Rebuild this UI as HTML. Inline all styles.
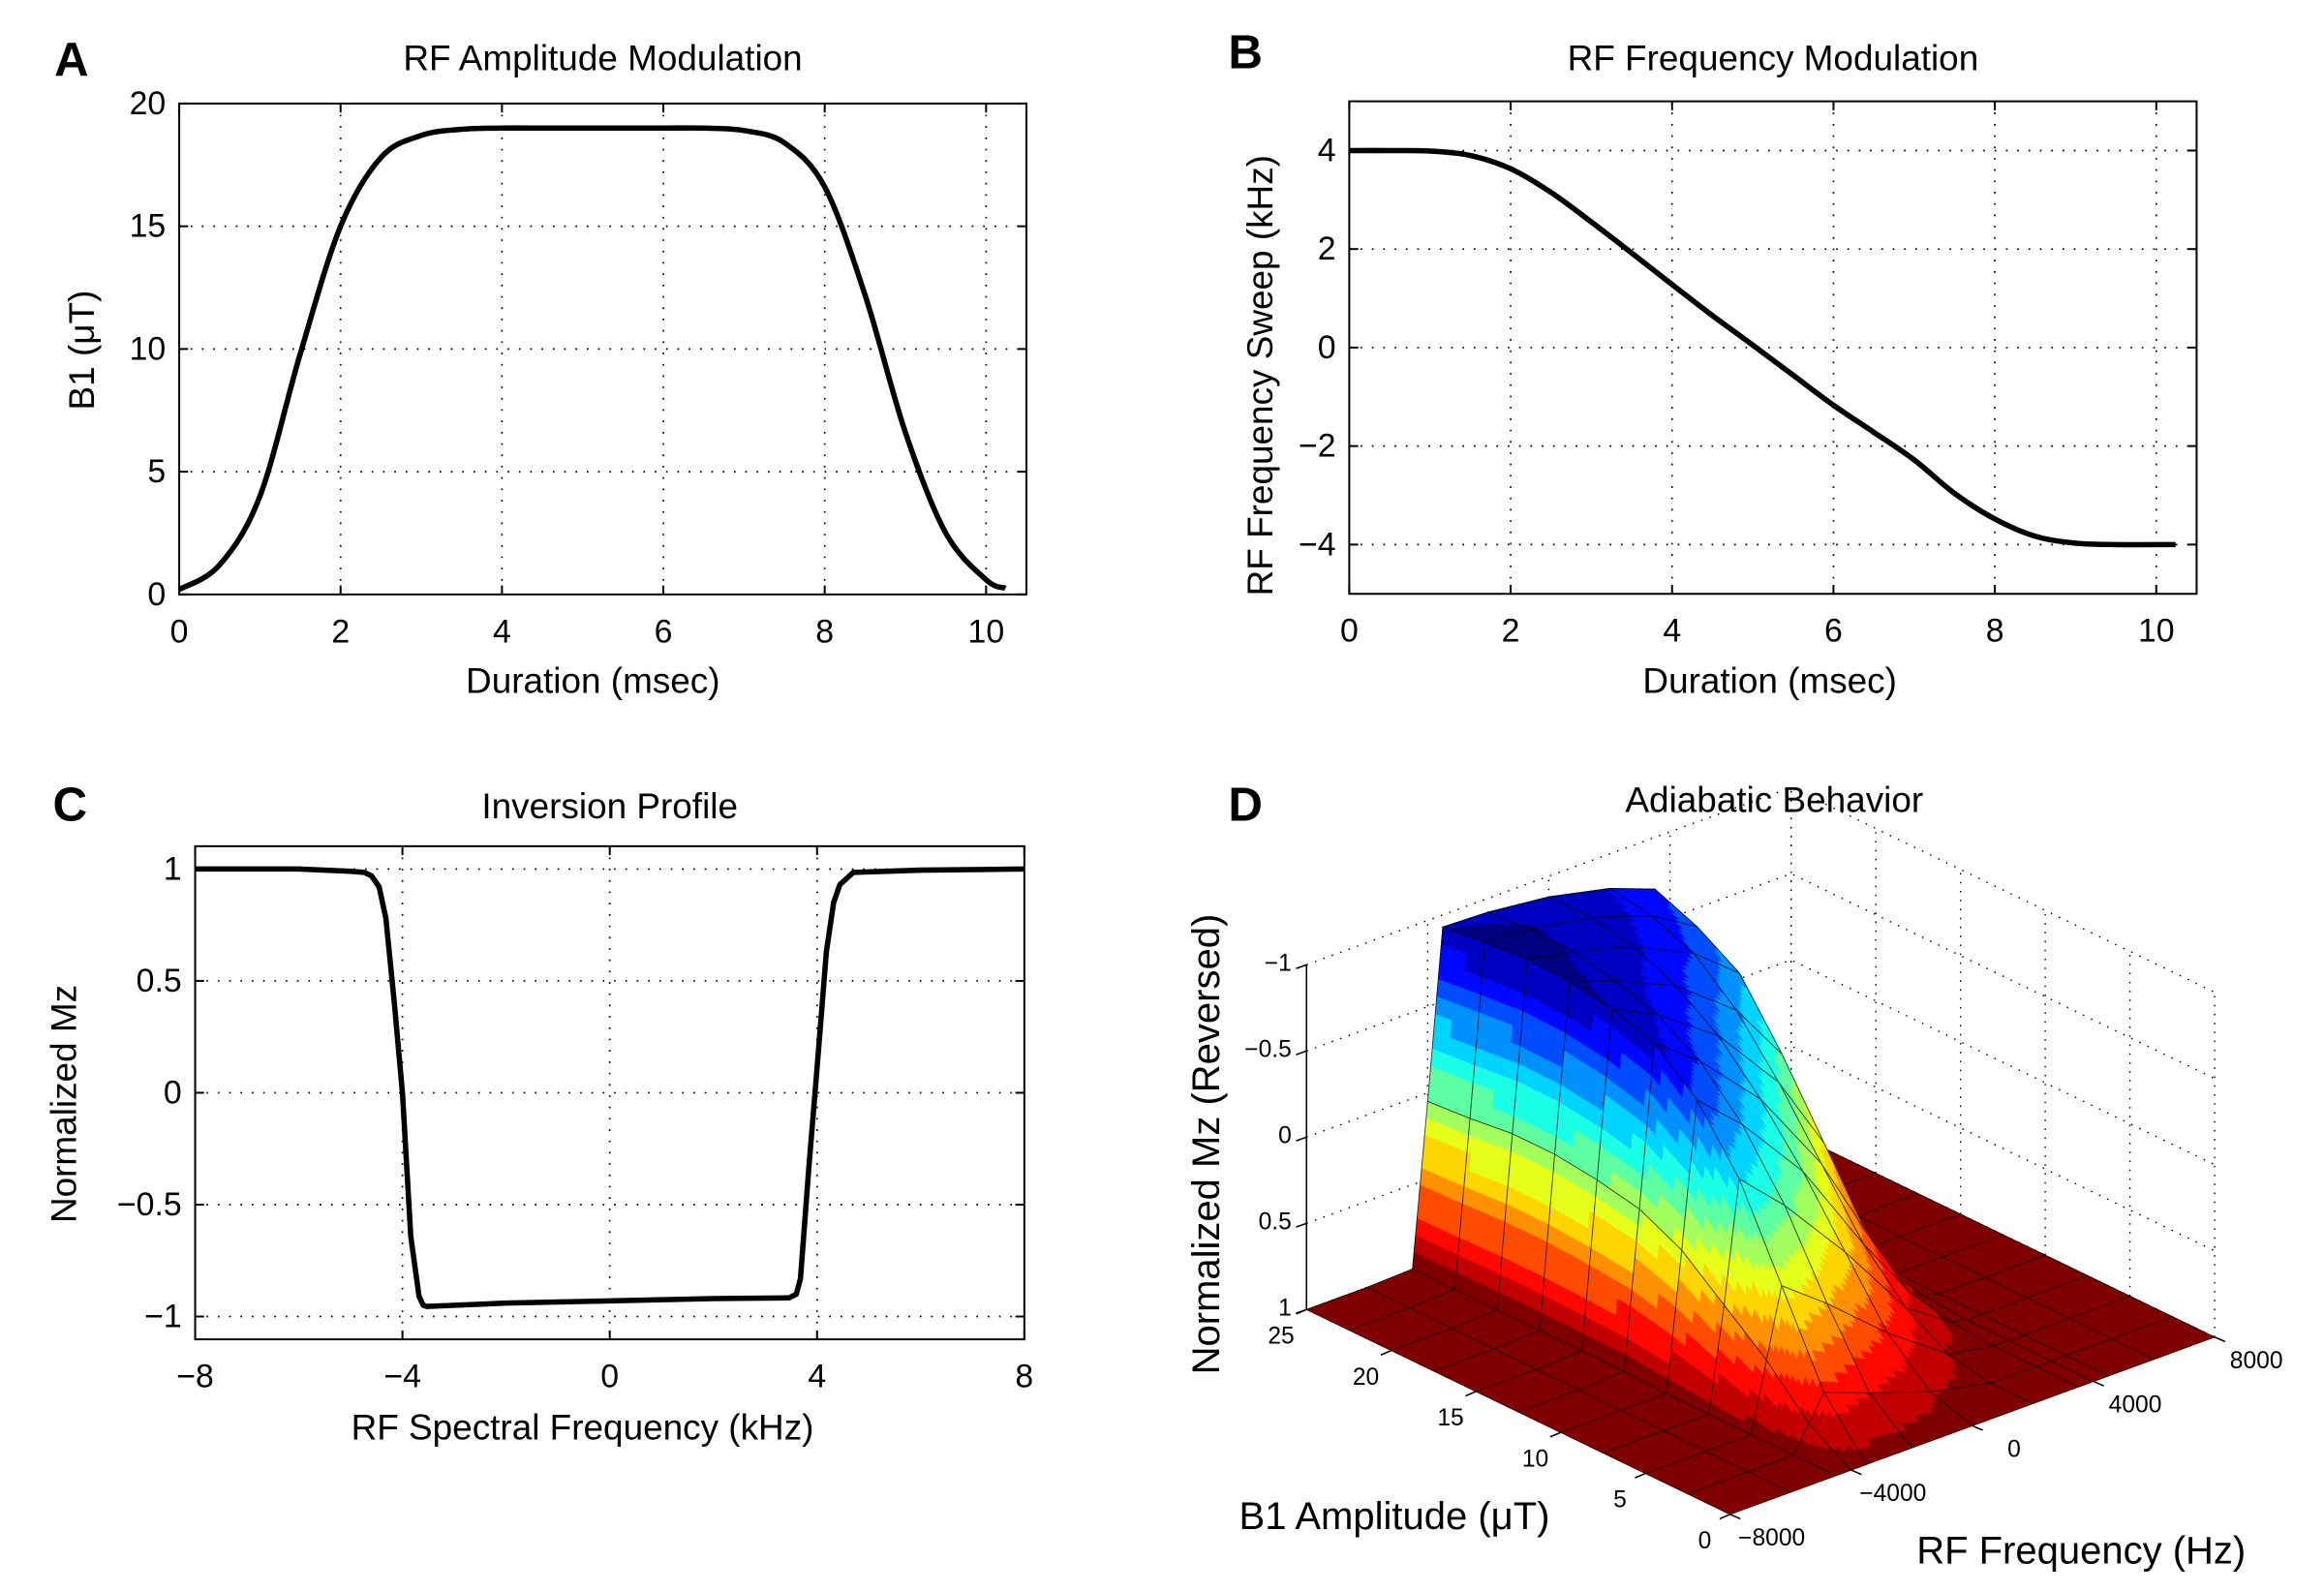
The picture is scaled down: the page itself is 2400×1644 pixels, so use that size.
<!DOCTYPE html>
<html><head><meta charset="utf-8"><style>
html,body{margin:0;padding:0;background:#fff;}
svg{display:block;}
text{font-family:"Liberation Sans Narrow","Liberation Sans",sans-serif;fill:#000;}
.d text{font-family:"Liberation Sans",sans-serif;}
</style></head><body>
<svg id="fig" xmlns="http://www.w3.org/2000/svg" width="2400" height="1644" viewBox="0 0 1560 1068.6">
<rect x="0" y="0" width="1560" height="1068.6" fill="#fff"/>
<g id="pA"></g>
<g id="pB"></g>
<g id="pC"></g>
<g id="pD" class="d"></g>
</svg>
<script>
// ---- Panel A data ----
const A_t  = [0,0.5,1,1.5,2,2.5,3,3.5,4,4.5,5,5.5,6,6.5,7,7.5,8,8.5,9,9.5,10,10.24];
const A_b1 = [0.2,1.2,4,9.8,15,17.8,18.7,18.95,19,19,19,19,19,19,18.9,18.4,16.6,12.2,6.6,2.5,0.6,0.25];
const A_xticks = [0,2,4,6,8,10];
const A_yticks = [0,5,10,15,20];
const A_ylabels = ["0","5","10","15","20"];
// ---- Panel B data ----
const B_t = [0,0.5,1,1.5,2,2.5,3,3.5,4,4.5,5,5.5,6,6.5,7,7.5,8,8.5,9,9.5,10.24];
const B_f = [4,4,3.99,3.9,3.63,3.15,2.55,1.92,1.28,0.65,0.05,-0.56,-1.17,-1.72,-2.28,-2.96,-3.48,-3.83,-3.97,-4,-4];
const B_xticks = [0,2,4,6,8,10];
const B_yticks = [-4,-2,0,2,4];
const B_ylabels = ["\u22124","\u22122","0","2","4"];
// ---- Panel C data ----
const C_f  = [-8,-6,-5,-4.74,-4.6,-4.45,-4.32,-4.16,-4.0,-3.84,-3.68,-3.6,-3.53,-2,0,2,3.3,3.47,3.6,3.68,3.84,4.0,4.18,4.32,4.44,4.7,6,8];
const C_mz = [1,1,0.99,0.985,0.97,0.92,0.78,0.41,0.0,-0.64,-0.91,-0.95,-0.955,-0.94,-0.93,-0.92,-0.917,-0.916,-0.9,-0.83,-0.34,0.11,0.63,0.85,0.93,0.985,0.995,1];
const C_xticks = [-8,-4,0,4,8];
const C_xlabels = ["\u22128","\u22124","0","4","8"];
const C_yticks = [-1,-0.5,0,0.5,1];
const C_ylabels = ["\u22121","\u22120.5","0","0.5","1"];
// ---- Panel D data ----
const D_b1   = [0,2.5,5,7.5,10,12.5,15,17.5,20,22.5,25];
const D_freq = [-8000,-6000,-4500,-4000,-3500,-2000,0,2000,3500,4000,4500,6000,8000];
const D_mz = [
 [1,1,1,1,1,1,1,1,1,1,1,1,1],
 [1,1,1,0.85,0.7,0.8,0.92,1,1,1,1,1,1],
 [1,1,1,0.6,0.2,0.4,0.7,0.95,1,1,1,1,1],
 [1,1,1,0.4,-0.3,-0.05,0.35,0.8,0.98,1,1,1,1],
 [1,1,1,0.2,-0.64,-0.4,0.0,0.55,0.92,0.98,1,1,1],
 [1,1,0.99,0.08,-0.85,-0.65,-0.3,0.2,0.7,0.92,1,1,1],
 [1,1,0.99,0.03,-0.93,-0.8,-0.55,-0.15,0.3,0.8,1,1,1],
 [1,1,0.99,0.0,-0.97,-0.88,-0.72,-0.45,-0.1,0.6,1,1,1],
 [1,1,0.99,0.0,-0.98,-0.93,-0.83,-0.66,-0.45,0.45,0.99,1,1],
 [1,1,0.99,0.03,-0.96,-0.94,-0.88,-0.76,-0.6,0.35,0.99,1,1],
 [1,1,0.99,0.05,-0.93,-0.92,-0.88,-0.8,-0.7,0.3,0.99,1,1]
];
const D_zticks = [-1,-0.5,0,0.5,1];
const D_zlabels = ["\u22121","\u22120.5","0","0.5","1"];
const D_b1ticks = [0,5,10,15,20,25];
const D_fticks = [-8000,-4000,0,4000,8000];
const D_flabels = ["\u22128000","\u22124000","0","4000","8000"];

const NS="http://www.w3.org/2000/svg";
function mk(tag, attrs, parent){
  const e=document.createElementNS(NS,tag);
  for(const k in attrs) e.setAttribute(k,attrs[k]);
  parent.appendChild(e);
  return e;
}
function txt(parent,x,y,s,size,anchor,name,extra){
  const t=mk('text',Object.assign({x:x,y:y,'font-size':size,'text-anchor':anchor||'middle','dominant-baseline':'central'},extra||{}),parent);
  t.textContent=s;
  
  
  return t;
}
function smooth(pts){
  let d='M'+pts[0][0].toFixed(2)+','+pts[0][1].toFixed(2);
  for(let i=0;i<pts.length-1;i++){
    const p0=pts[Math.max(0,i-1)],p1=pts[i],p2=pts[i+1],p3=pts[Math.min(pts.length-1,i+2)];
    const c1=[p1[0]+(p2[0]-p0[0])/6,p1[1]+(p2[1]-p0[1])/6];
    const c2=[p2[0]-(p3[0]-p1[0])/6,p2[1]-(p3[1]-p1[1])/6];
    d+=' C'+c1[0].toFixed(2)+','+c1[1].toFixed(2)+' '+c2[0].toFixed(2)+','+c2[1].toFixed(2)+' '+p2[0].toFixed(2)+','+p2[1].toFixed(2);
  }
  return d;
}
function axes2d(g,c){
  const sx=v=>c.L+(v-c.xmin)/(c.xmax-c.xmin)*(c.R-c.L);
  const sy=v=>c.B-(v-c.ymin)/(c.ymax-c.ymin)*(c.B-c.T);
  c.xticks.forEach((v,i)=>{
    const X=sx(v);
    if(X>c.L+2&&X<c.R-2){
      const gl=mk('line',{x1:X,y1:c.T,x2:X,y2:c.B,stroke:'#000','stroke-width':1.1,'stroke-dasharray':'1.1 6.5'},g);
      
      
    }
    const t1=mk('line',{x1:X,y1:c.B,x2:X,y2:c.B-6,stroke:'#000','stroke-width':1.3},g);
    
    
    const t2=mk('line',{x1:X,y1:c.T,x2:X,y2:c.T+6,stroke:'#000','stroke-width':1.3},g);
    
    
    txt(g,X,c.B+25,c.xlabels[i],22,'middle','x-tick-label');
  });
  c.yticks.forEach((v,i)=>{
    const Y=sy(v);
    if(Y>c.T+2&&Y<c.B-2){
      const gl=mk('line',{x1:c.L,y1:Y,x2:c.R,y2:Y,stroke:'#000','stroke-width':1.1,'stroke-dasharray':'1.1 6.5'},g);
      
      
    }
    const t1=mk('line',{x1:c.L,y1:Y,x2:c.L+6,y2:Y,stroke:'#000','stroke-width':1.3},g);
    
    
    const t2=mk('line',{x1:c.R,y1:Y,x2:c.R-6,y2:Y,stroke:'#000','stroke-width':1.3},g);
    
    
    txt(g,c.L-9,Y,c.ylabels[i],22,'end','y-tick-label');
  });
  const pts=c.xs.map((v,i)=>[sx(v),sy(c.ys[i])]);
  const ln=mk('path',{d:c.poly?('M'+pts.map(p=>p[0].toFixed(2)+','+p[1].toFixed(2)).join(' L')):smooth(pts),fill:'none',stroke:'#000','stroke-width':3.6,'stroke-linejoin':'round','stroke-linecap':'butt'},g);
  
  
  const box=mk('rect',{x:c.L,y:c.T,width:c.R-c.L,height:c.B-c.T,fill:'none',stroke:'#000','stroke-width':1.3},g);
  
  
  txt(g,(c.L+c.R)/2,c.titleY,c.title,24,'middle','chart-title');
  txt(g,c.xlabX,c.xlabY,c.xlab,24,'middle','x-axis-title');
  txt(g,c.ylabX,c.ylabY,c.ylab,24,'middle','y-axis-title',{transform:'rotate(-90 '+c.ylabX+' '+c.ylabY+')'});
  txt(g,c.letX,c.letY,c.letter,32,'middle','panel-letter',{'font-weight':'bold','font-family':'"Liberation Sans",sans-serif'});
}
axes2d(document.getElementById('pA'),{L:120.3,R:689,T:69.5,B:399,xmin:0,xmax:10.5,ymin:0,ymax:20,
  xticks:A_xticks,xlabels:A_xticks.map(String),yticks:A_yticks,ylabels:A_ylabels,xs:A_t,ys:A_b1,lineName:'b1-amplitude-line',
  title:'RF Amplitude Modulation',titleY:39,xlab:'Duration (msec)',xlabX:398,xlabY:457,ylab:'B1 (\u03bcT)',ylabX:55,ylabY:235,letter:'A',letX:48,letY:40});
axes2d(document.getElementById('pB'),{L:905.7,R:1474.5,T:68,B:398.6,xmin:0,xmax:10.5,ymin:-5,ymax:5,
  xticks:B_xticks,xlabels:B_xticks.map(String),yticks:B_yticks,ylabels:B_ylabels,xs:B_t,ys:B_f,lineName:'frequency-sweep-line',
  title:'RF Frequency Modulation',titleY:39,xlab:'Duration (msec)',xlabX:1188,xlabY:457,ylab:'RF Frequency Sweep (kHz)',ylabX:846,ylabY:252,letter:'B',letX:836,letY:35});
axes2d(document.getElementById('pC'),{L:131,R:687.6,T:568,B:899,xmin:-8,xmax:8,ymin:-1.102,ymax:1.102,
  xticks:C_xticks,xlabels:C_xlabels,yticks:C_yticks,ylabels:C_ylabels,xs:C_f,ys:C_mz,poly:true,lineName:'inversion-profile-line',
  title:'Inversion Profile',titleY:541,xlab:'RF Spectral Frequency (kHz)',xlabX:391,xlabY:958,ylab:'Normalized Mz',ylabX:43,ylabY:741,letter:'C',letX:47,letY:540});

// ---- Panel D: 3D surface ----
(function(){
  const g=document.getElementById('pD');
  const O=[877,879], FV=[325.3,-119], BV=[284.3,137.5], ZH=115.7;
  function P(b1,f,z){
    const ff=(f+8000)/16000, bf=(25-b1)/25;
    return [O[0]+ff*FV[0]+bf*BV[0], O[1]+ff*FV[1]+bf*BV[1]-(1-z)*ZH];
  }
  function jet(mz){
    let t=(mz+1)/2; t=Math.max(0,Math.min(1,t));
    t=Math.min(1,Math.round(t*15)/15);
    const cl=v=>Math.max(0,Math.min(1,v));
    const r=cl(1.5-Math.abs(4*t-3)),gg=cl(1.5-Math.abs(4*t-2)),b=cl(1.5-Math.abs(4*t-1));
    return 'rgb('+Math.round(r*255)+','+Math.round(gg*255)+','+Math.round(b*255)+')';
  }
  const wall=mk('g',{stroke:'#000','stroke-width':0.9,'stroke-dasharray':'1 5',fill:'none'},g);
  
  
  D_zticks.forEach(z=>{
    const a=P(25,-8000,z),b=P(25,8000,z),c=P(0,8000,z);
    const l=mk('polyline',{points:a.join(',')+' '+b.join(',')+' '+c.join(',')},wall);
    
    
  });
  D_fticks.forEach(f=>{
    const a=P(25,f,1),b=P(25,f,-1);
    const l=mk('line',{x1:a[0],y1:a[1],x2:b[0],y2:b[1]},wall);
    
    
  });
  D_b1ticks.forEach(b1=>{
    const a=P(b1,8000,1),b=P(b1,8000,-1);
    const l=mk('line',{x1:a[0],y1:a[1],x2:b[0],y2:b[1]},wall);
    
    
  });
  const surf=mk('g',{},g);
  
  
  const cells=[];
  for(let i=0;i<D_b1.length-1;i++) for(let j=0;j<D_freq.length-1;j++) cells.push([i,j]);
  const depth=c=>((D_b1[c[0]]+D_b1[c[0]+1])/2)/25+((D_freq[c[1]]+D_freq[c[1]+1])/2+8000)/16000;
  cells.sort((a,b)=>depth(b)-depth(a));
  const N=10;
  cells.forEach(([i,j])=>{
    const cg=mk('g',{},surf);
    
    
    const b0=D_b1[i],b1=D_b1[i+1],f0=D_freq[j],f1=D_freq[j+1];
    const z00=D_mz[i][j],z01=D_mz[i][j+1],z10=D_mz[i+1][j],z11=D_mz[i+1][j+1];
    const Z=(u,v)=>z00*(1-u)*(1-v)+z01*(1-u)*v+z10*u*(1-v)+z11*u*v;
    const subs=[];
    for(let a=0;a<N;a++) for(let c=0;c<N;c++) subs.push([a,c]);
    subs.sort((p,q)=>(q[0]/N+q[1]/N)-(p[0]/N+p[1]/N));
    subs.forEach(([a,c])=>{
      const u0=a/N,u1=(a+1)/N,v0=c/N,v1=(c+1)/N;
      const B=u=>b0+(b1-b0)*u, F=v=>f0+(f1-f0)*v;
      const q=[P(B(u0),F(v0),Z(u0,v0)),P(B(u0),F(v1),Z(u0,v1)),P(B(u1),F(v1),Z(u1,v1)),P(B(u1),F(v0),Z(u1,v0))];
      const col=jet(Z((u0+u1)/2,(v0+v1)/2));
      const pg=mk('polygon',{points:q.map(p=>p[0].toFixed(2)+','+p[1].toFixed(2)).join(' '),fill:col,stroke:col,'stroke-width':0.5},cg);
      
      
    });
    const e=[P(b0,f0,z00),P(b0,f1,z01),P(b1,f1,z11),P(b1,f0,z10)];
    const ol=mk('polygon',{points:e.map(p=>p[0].toFixed(2)+','+p[1].toFixed(2)).join(' '),fill:'none',stroke:'#000','stroke-width':0.6,'stroke-opacity':0.7},cg);
    
    
  });
  const ax=mk('g',{stroke:'#000','stroke-width':1,fill:'none'},g);
  
  
  const zA=P(25,-8000,1),zB=P(25,-8000,-1);
  const zl=mk('line',{x1:zA[0],y1:zA[1],x2:zB[0],y2:zB[1]},ax);
  
  
  D_zticks.forEach((z,k)=>{
    const p=P(25,-8000,z);
    const t=mk('line',{x1:p[0],y1:p[1],x2:p[0]-7,y2:p[1]+2.5},ax);
    
    
    txt(g,p[0]-10,p[1]-1,D_zlabels[k],16,'end','z-tick-label');
  });
  D_b1ticks.forEach(b=>{
    const p=P(b,-8000,1);
    const t=mk('line',{x1:p[0],y1:p[1],x2:p[0]-7,y2:p[1]+3},ax);
    
    
    txt(g,p[0]-17,p[1]+18,String(b),16,'middle','b1-tick-label');
  });
  D_fticks.forEach((f,k)=>{
    const p=P(0,f,1);
    const t=mk('line',{x1:p[0],y1:p[1],x2:p[0]+7,y2:p[1]+3},ax);
    
    
    txt(g,p[0]+28,p[1]+16,D_flabels[k],16,'middle','freq-tick-label');
  });
  txt(g,1191,537,'Adiabatic Behavior',24,'middle','chart-title');
  txt(g,936,1018,'B1 Amplitude (\u03bcT)',26,'middle','b1-axis-title');
  txt(g,1397,1041,'RF Frequency (Hz)',26,'middle','freq-axis-title');
  txt(g,810,768,'Normalized Mz (Reversed)',26,'middle','z-axis-title',{transform:'rotate(-90 810 768)'});
  txt(g,836,540,'D',32,'middle','panel-letter',{'font-weight':'bold'});
})();
</script>
</body></html>
